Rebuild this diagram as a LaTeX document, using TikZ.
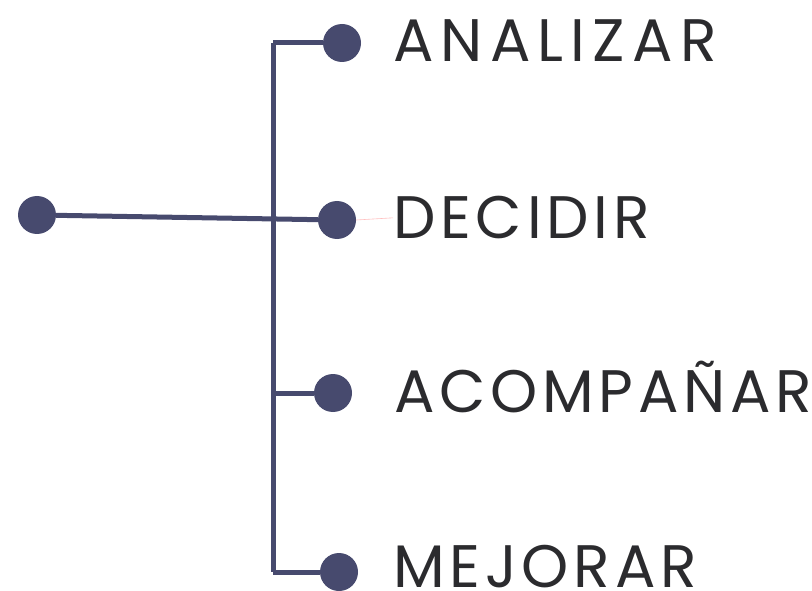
\documentclass[tikz,border=0pt]{standalone}
\usepackage{fontspec}
\setmainfont{Poppins}
\newfontfamily\labfont[LetterSpace=8]{Poppins}
\newfontfamily\labfontw[LetterSpace=12]{Poppins}
\definecolor{linec}{HTML}{474A6E}
\definecolor{textc}{HTML}{2B2B2E}
\tikzset{
  dotnode/.style={circle,fill=linec,minimum size=38pt,inner sep=0pt},
  conn/.style={draw=linec,line width=5pt},
  lab/.style={anchor=base west,inner sep=0pt,text depth=0pt,text=textc,font=\labfont\fontsize{60}{60}\selectfont}
}
\begin{document}
\begin{tikzpicture}[x=1pt,y=-1pt]
\useasboundingbox (0,0) rectangle (812,591);
% junction coordinates on the vertical line
\coordinate (j1) at (273,43);
\coordinate (j4) at (273,572);
\coordinate (j3) at (273,393);
% dots
\node[dotnode] (root) at (37,215) {};
\node[dotnode] (d1) at (342,43) {};
\node[dotnode] (d2) at (337,220) {};
\node[dotnode] (d3) at (333,393) {};
\node[dotnode] (d4) at (339,572) {};
% connectors
\draw[conn] (j1) -- (j4);
\draw[conn] (j1) -- (d1);
\draw[conn] (root) -- (d2);
\draw[conn] (j3) -- (d3);
\draw[conn] (j4) -- (d4);
% labels
\node[lab,font=\labfontw\fontsize{60}{60}\selectfont] (t1) at (393,62) {ANALIZAR};
\node[lab] (t2) at (393,239) {DECIDIR};
\node[lab] (t3) at (394,412) {ACOMPAÑAR};
\node[lab] (t4) at (393,587) {MEJORAR};
\draw[red!25,line width=0.6pt] (d2.east) -- (t2.west);
\end{tikzpicture}
\end{document}
